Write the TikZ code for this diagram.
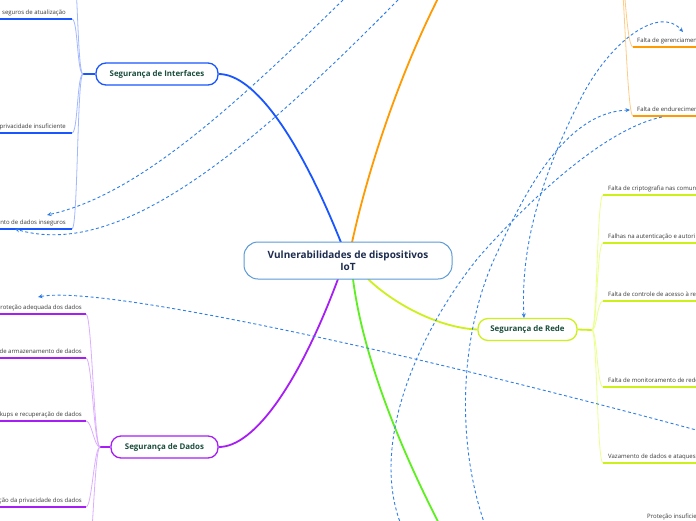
\documentclass[tikz,border=0pt]{standalone}
\usepackage{fontspec}
\setmainfont{Open Sans}
\usetikzlibrary{arrows.meta}
\definecolor{ifc}{HTML}{1A56FF}
\definecolor{ifcl}{HTML}{A3B9FF}
\definecolor{ora}{HTML}{FF9A00}
\definecolor{oral}{HTML}{FFCC85}
\definecolor{ylw}{HTML}{CDF01C}
\definecolor{ylwl}{HTML}{EAFF8C}
\definecolor{pur}{HTML}{A61EF5}
\definecolor{purl}{HTML}{DDADFF}
\definecolor{grn}{HTML}{5CF01E}
\definecolor{rel}{HTML}{2E7EE6}
\definecolor{brtxt}{HTML}{1B4D3E}
\definecolor{ctxt}{HTML}{1E2D4F}
\definecolor{cbord}{HTML}{5A9AD6}
\definecolor{leaftxt}{HTML}{3A3A3A}
\pgfdeclarelayer{bg}
\pgfsetlayers{bg,main}
\tikzset{
  centerbox/.style={draw=cbord, line width=1pt, rounded corners=14pt, fill=white,
    minimum width=208pt, minimum height=37pt, inner sep=0pt, align=center,
    font=\fontsize{10}{12}\selectfont\bfseries, text=ctxt},
  branchbox/.style={line width=1.3pt, rounded corners=10pt, fill=white,
    minimum height=22pt, inner sep=0pt, font=\fontsize{7.9}{9}\selectfont\bfseries, text=brtxt},
  leaf/.style={inner sep=0pt, font=\fontsize{6}{7}\selectfont, text=leaftxt},
  mainline/.style={line width=1.8pt},
  thin/.style={line width=0.8pt},
  uline/.style={line width=1.8pt},
  relline/.style={draw=rel, line width=0.9pt, dash pattern=on 3pt off 2.5pt},
  reltip/.style={-{Stealth[length=4.5pt,width=4pt]}},
}
\begin{document}
\begin{tikzpicture}[x=1pt,y=-1pt]
\useasboundingbox (0,0) rectangle (696,520);
\clip (0,0) rectangle (696,520);

% nodes
\node[centerbox] (c) at (348,260.5) {Vulnerabilidades de dispositivos\\IoT};
\node[branchbox, draw=ifc, minimum width=122pt] (ifcb) at (157,74) {Segurança de Interfaces};
\node[branchbox, draw=pur, minimum width=107pt] (datb) at (164.5,447) {Segurança de Dados};
\node[branchbox, draw=ylw, minimum width=99pt] (redb) at (527.5,329.5) {Segurança de Rede};

% coordinates
\coordinate (cb) at (341,242.5);
\coordinate (co) at (352,242.5);
\coordinate (cp) at (338,279);
\coordinate (cg) at (353,279);
\coordinate (cy) at (368,279);
\coordinate (otop) at (445,-15);
\coordinate (gbot) at (445,535);
\coordinate (rtop) at (524,318);

\coordinate (ij) at (83,74);
\coordinate (ic0) at (72,-40);
\coordinate (ic1) at (72,19);
\coordinate (ic2) at (72,133);
\coordinate (ic3) at (72,229);

\coordinate (dj) at (100,447);
\coordinate (dc1) at (86,314);
\coordinate (dc2) at (86,358);
\coordinate (dc3) at (86,421);
\coordinate (dc4) at (86,507);
\coordinate (dc5) at (86,580);

\coordinate (rj) at (592,330);
\coordinate (rc1) at (603,195);
\coordinate (rc2) at (603,243);
\coordinate (rc3) at (603,301);
\coordinate (rc4) at (603,387);
\coordinate (rc5) at (603,463);

\coordinate (oj) at (616,-60);
\coordinate (oc1) at (633,47);
\coordinate (oc2) at (633,116);

% leaf texts
\node[leaf, anchor=base east] (t11) at (66,14) {seguros de atualização};
\node[leaf, anchor=base east] (t12) at (66,128) {privacidade insuficiente};
\node[leaf, anchor=base east] (t13) at (66,224) {nto de dados inseguros};
\node[leaf, anchor=base east] (t21) at (82,309) {proteção adequada dos dados};
\node[leaf, anchor=base east] (t22) at (82,353) {de armazenamento de dados};
\node[leaf, anchor=base east] (t23) at (82,416) {kups e recuperação de dados};
\node[leaf, anchor=base east] (t24) at (82,502) {ção da privacidade dos dados};
\node[leaf, anchor=base west] (t31) at (608,190) {Falta de criptografia nas comun};
\node[leaf, anchor=base west] (t32) at (608,238) {Falhas na autenticação e autori};
\node[leaf, anchor=base west] (t33) at (608,296) {Falta de controle de acesso à re};
\node[leaf, anchor=base west] (t34) at (608,382) {Falta de monitoramento de rede};
\node[leaf, anchor=base west] (t35) at (608,458) {Vazamento de dados e ataques};
\node[leaf, anchor=base west] (t41) at (637,42) {Falta de gerenciamen};
\node[leaf, anchor=base west] (t42) at (637,111) {Falta de endurecimen};
\node[leaf, anchor=base west] (t51) at (647,518) {Proteção insuficie};

\begin{pgfonlayer}{bg}
\clip (0,0) rectangle (696,520);
\fill[white] (0,0) rectangle (696,520);
% main branches
\draw[mainline, ifc] (ifcb.east) .. controls (255,74) and (300,140) .. (cb);
\draw[mainline, pur] (datb.east) .. controls (255,447) and (300,381) .. (cp);
\draw[mainline, ora] (co) .. controls (370,160) and (405,60) .. (otop);
\draw[mainline, grn] (cg) .. controls (362,350) and (395,440) .. (gbot);
\draw[mainline, ylw] (cy) .. controls (395,305) and (440,328) .. (redb.west);

% interfaces children
\draw[uline, ifc] (ifcb.west) -- (ij);
\foreach \k/\y in {ic0/-40, ic1/19, ic2/133, ic3/229}{
  \draw[thin, ifcl] (ij) .. controls (77,74) and (78,\y) .. (\k);
}
\foreach \k in {ic1, ic2, ic3}{ \draw[uline, ifc] (\k) -- ++(-80,0); }

% dados children
\draw[uline, pur] (datb.west) -- (dj);
\foreach \k/\y in {dc1/314, dc2/358, dc3/421, dc4/507, dc5/580}{
  \draw[thin, purl] (dj) .. controls (94,447) and (92,\y) .. (\k);
}
\foreach \k in {dc1, dc2, dc3, dc4}{ \draw[uline, pur] (\k) -- ++(-90,0); }

% rede children
\draw[uline, ylw] (redb.east) -- (rj);
\foreach \k/\y in {rc1/195, rc2/243, rc3/301, rc4/387, rc5/463}{
  \draw[thin, ylwl] (rj) .. controls (597,330) and (597,\y) .. (\k);
}
\foreach \k in {rc1, rc2, rc3, rc4, rc5}{ \draw[uline, ylw] (\k) -- ++(100,0); }

% orange children
\draw[thin, oral] (oj) .. controls (624,-60) and (625,47) .. (oc1);
\draw[thin, oral] (oj) .. controls (624,-60) and (626,116) .. (oc2);
\foreach \k in {oc1, oc2}{ \draw[uline, ora] (\k) -- ++(70,0); }
\end{pgfonlayer}

% relationship connectors
\coordinate (r1s) at (343,0);
\coordinate (r1e) at (47,215);
\coordinate (r2s) at (398,0);
\coordinate (r2e) at (15,229);
\coordinate (r3e) at (683,32);
\coordinate (r3m) at (580,100);
\coordinate (r4s) at (485,525);
\coordinate (r4m) at (497,253);
\coordinate (r4e) at (630,110);
\coordinate (r5s) at (662,117);
\coordinate (r5m) at (478,258);
\coordinate (r5e) at (400,522);
\coordinate (r6s) at (700,431);
\coordinate (r6e) at (38,297);

\draw[relline, reltip] (r1s) .. controls (240,100) and (140,195) .. (r1e);
\draw[relline, reltip] (r2s) .. controls (250,150) and (120,260) .. (r2e);
\draw[relline, {Stealth[length=4.5pt,width=4pt]}-{Stealth[length=4.5pt,width=4pt]}] (rtop) .. controls (520,240) and (545,170) .. (r3m) .. controls (610,40) and (660,5) .. (r3e);
\draw[relline, reltip] (r4s) .. controls (455,440) and (460,330) .. (r4m) .. controls (530,180) and (570,112) .. (r4e);
\draw[relline] (r5s) .. controls (600,130) and (520,210) .. (r5m) .. controls (420,330) and (370,440) .. (r5e);
\draw[relline, reltip] (r6s) .. controls (400,350) and (100,285) .. (r6e);
\end{tikzpicture}
\end{document}
